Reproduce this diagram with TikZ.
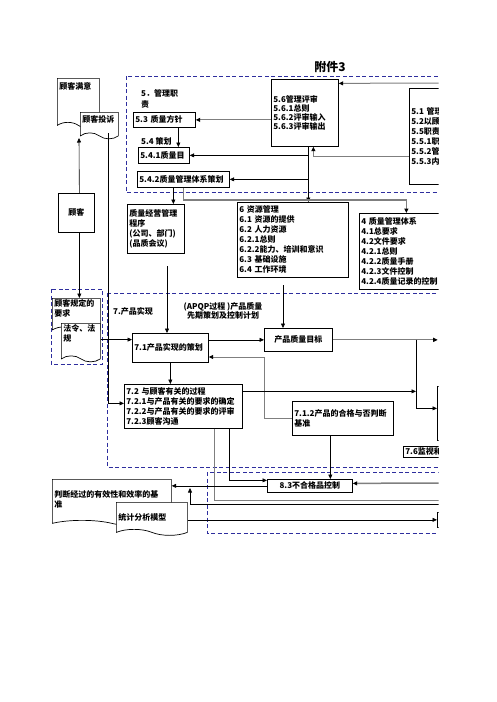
\documentclass[tikz,border=0pt]{standalone}
\usepackage{fontspec}
\setmainfont{Noto Sans CJK SC}
\usetikzlibrary{shapes.symbols, arrows.meta}
\definecolor{dashblue}{HTML}{2E2E9E}
\definecolor{linegray}{HTML}{7F7F7F}

\begin{document}
\begin{tikzpicture}[
    x=1pt, y=-1pt,
    box/.style={rectangle, draw, fill=white, line width=0.7pt, inner sep=2pt,
                anchor=north west, align=left,
                font=\bfseries\fontsize{8}{10}\selectfont},
    wh/.style 2 args={minimum width=#1pt, minimum height=#2pt,
                      text width=\dimexpr#1pt-4pt\relax},
    doc/.style={tape, draw, fill=white, line width=0.7pt, tape bend top=none,
                tape bend bottom=out and in, tape bend height=6pt, inner sep=2pt,
                anchor=north west, align=left,
                font=\bfseries\fontsize{8}{10}\selectfont},
    grp/.style={draw=dashblue, dash pattern=on 4pt off 2.5pt, line width=0.8pt},
    lbl/.style={inner sep=0pt, font=\bfseries\fontsize{8}{10}\selectfont},
    arr/.style={-{Triangle[length=4.5pt,width=4pt]}, line width=0.6pt},
    arrg/.style={-{Triangle[length=4.5pt,width=4pt,color=black]}, draw=linegray, line width=1pt},
    lineg/.style={draw=linegray, line width=1pt}
]
\useasboundingbox (0,0) rectangle (496,702);
\begin{scope}
\clip (0,0) rectangle (438.5,702);

\node[lbl, font=\bfseries\fontsize{12}{12}\selectfont] (title) at (330,67) {附件3};

% management responsibility
\draw[grp] (126,76) rectangle (520,192);
\node[lbl, anchor=north west, align=left, font=\bfseries\fontsize{8}{11}\selectfont] (lbl5) at (141,89) {5．管理职\\责};
\node[box, wh={62}{15}] (pol) at (133,112) {5.3 质量方针};
\node[lbl, anchor=west] (lbl54) at (141,141) {5.4 策划};
\node[box, wh={51}{16}] (obj) at (138,147) {5.4.1质量目};
\node[box, wh={92}{16}] (plan) at (137,171) {5.4.2质量管理体系策划};
\node[box, wh={67}{67}, font=\bfseries\fontsize{8}{9}\selectfont] (rev) at (271,79)
    {5.6管理评审\\5.6.1总则\\5.6.2评审输入\\5.6.3评审输出};
\node[box, wh={100}{96}] (resp) at (409,88)
    {5.1 管理承诺\\5.2以顾客为关注焦点\\5.5职责、权限与沟通\\5.5.1职责和权限\\5.5.2管理者代表\\5.5.3内部沟通};

% customer side
\node[doc, wh={42}{0}, text height=9pt, text depth=31pt] (sat) at (57,78) {顾客满意};
\node[doc, wh={38}{0}, text height=8.5pt, text depth=8pt] (comp) at (80,112) {顾客投诉};
\node[box, wh={36}{39}, align=center] (cust) at (58,193) {顾客};
\coordinate (custup) at (79,138);

\node[box, wh={57}{49}] (proc) at (127,204) {质量经营管理\\程序\\(公司、部门)\\(品质会议)};
\node[box, wh={111}{75}] (res) at (237,202)
    {6 资源管理\\6.1 资源的提供\\6.2 人力资源\\6.2.1总则\\6.2.2能力、培训和意识\\6.3 基础设施\\6.4 工作环境};
\node[box, wh={141}{76}] (qms) at (359,213)
    {4 质量管理体系\\4.1总要求\\4.2文件要求\\4.2.1总则\\4.2.2质量手册\\4.2.3文件控制\\4.2.4质量记录的控制};
\coordinate (procdn) at (167,266);
\coordinate (resdn) at (283,285);

% customer requirements
\draw[grp] (51,289) rectangle (102,364);
\node[doc, wh={48}{0}, text height=6.5pt, text depth=18pt] (req) at (52,298) {顾客规定的\\要求};
\node[doc, wh={39}{0}, text height=6.5pt, text depth=22pt] (law) at (61,323) {法令、法\\规};

% product realization
\draw[grp] (107,293) rectangle (520,467);
\node[lbl, anchor=west] (lbl7) at (113,311) {7.产品实现};
\node[lbl, align=center, font=\bfseries\fontsize{8}{8.5}\selectfont] (lblapqp) at (223,311)
    {(APQP过程 )产品质量\\先期策划及控制计划};
\node[box, wh={76}{29}] (pr71) at (132,333) {7.1产品实现的策划};
\node[box, wh={68}{23}, align=center] (goal) at (264,328) {产品质量目标};
\node[box, wh={118}{44}] (pr72) at (124,384)
    {7.2 与顾客有关的过程\\7.2.1与产品有关的要求的确定\\7.2.2与产品有关的要求的评审\\7.2.3顾客沟通};
\node[box, wh={101}{34}] (crit) at (292,401) {7.1.2产品的合格与否判断\\基准};
\node[box, wh={63}{54}] (meas) at (437,386) {};
\node[box, wh={97}{11}, inner ysep=1pt] (mon) at (403,446) {7.6监视和测量装置的控制};
\coordinate (jn) at (416,339.5);
\coordinate (fb) at (264,357);

% improvement
\draw[grp] (207,472) rectangle (520,533);
\node[box, wh={85}{13}, align=center, inner ysep=1pt] (ncp) at (267,479) {8.3不合格品控制};
\node[box, wh={63}{15}] (anal) at (437,512) {};
\node[doc, wh={119}{0}, text height=16pt, text depth=21pt] (judge) at (52,479) {判断经过的有效性和效率的基\\准};
\node[doc, wh={71}{0}, text height=16pt, text depth=7pt] (stat) at (116,502) {统计分析模型};
\coordinate (inrev) at (445,83);
\coordinate (out72) at (445,500);
\coordinate (inback) at (445,504);
\coordinate (upjudge) at (190,488);
\coordinate (inncp) at (445,483);

% arrows, management
\draw[arr] ([xshift=14pt]pol.south) -- ([xshift=14pt]pol.south |- obj.north);
\draw[arrg] (rev.west |- pol.east) -- (pol.east);
\draw[arr] ([xshift=3.5pt]rev.south) -- ([xshift=3.5pt]rev.south |- res.north);
\draw[arr] ([xshift=3.5pt]rev.south |- obj.east) -- (obj.east);
\draw[arr] ([xshift=3.5pt]rev.south |- plan.east) -- (plan.east);
\draw[arrg] ([yshift=-20pt]resp.west) -| ([xshift=8.5pt]rev.south);
\draw[arrg] (inrev) -- ([yshift=29.5pt]rev.east);
\draw[arr] ([xshift=-10pt]plan.south) -- ([xshift=-10pt]plan.south |- proc.north);
\draw[arrg, line width=1.5pt] (plan.south) |- ([xshift=-23.5pt,yshift=13pt]qms.north) -- ([xshift=-23.5pt]qms.north);

% arrows, customer
\draw[arr] ([xshift=3pt]cust.north) -- (custup);
\draw[arr] ([xshift=3pt]cust.south) -- ([xshift=3pt]cust.south |- req.north);
\draw[arr] ([xshift=9pt]comp.south) |- ([yshift=3pt]pr72.west);
\draw[arr] (law.east) -- (law.east -| pr71.west);

% arrows, realization
\draw[arr] (procdn) -- (procdn |- pr71.north);
\draw[arr] (resdn) -- (resdn |- goal.north);
\draw[arr] (goal.west -| pr71.east) -- (goal.west);
\draw[arrg] (crit.west) -| (fb) -- (fb -| pr71.east);
\draw[arr] (pr71.south) -- (pr71.south |- pr72.north);
\draw[arr] ([yshift=15pt]pr72.east) -- ([yshift=15pt]pr72.east -| jn);
\draw[arrg] (goal.east) -- ++(105,0);
\draw[arr] (jn) |- ([yshift=5pt]meas.west);
\draw[arr] ([xshift=-12.5pt]crit.south) -- ([xshift=-12.5pt]crit.south |- ncp.north);

% arrows, improvement
\draw[arr] ([xshift=46pt]pr72.south) |- ([yshift=5.5pt]ncp.west);
\draw[lineg] ([xshift=31pt]pr72.south) |- (out72);
\draw[arr] (inback) -| (upjudge);
\draw[arr] (ncp.west) -- (ncp.west -| judge.east);
\draw[arrg, line width=1.5pt] (inncp) -- ([yshift=2.5pt]ncp.east);
\draw[arr] (anal.west -| stat.east) -- (anal.west);
\end{scope}
\end{tikzpicture}
\end{document}
